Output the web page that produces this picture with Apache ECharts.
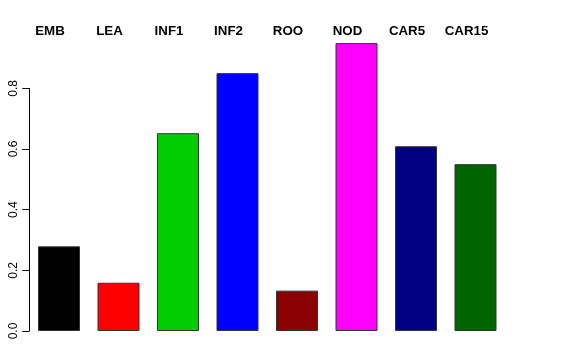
<!DOCTYPE html>
<html>
<head>
<meta charset="utf-8">
<script src="https://cdn.jsdelivr.net/npm/echarts@6/dist/echarts.min.js"></script>
<style>html,body{margin:0;padding:0;background:#fff}#c{width:576px;height:360px}</style>
</head>
<body>
<div id="c"></div>
<script>
const categories = ['EMB', 'LEA', 'INF1', 'INF2', 'ROO', 'NOD', 'CAR5', 'CAR15'];
const values = [0.279, 0.159, 0.652, 0.850, 0.133, 0.949, 0.609, 0.550];
const barColors = ['#000000', '#FF0000', '#00CD00', '#0000FF', '#8B0000', '#FF00FF', '#000080', '#006400'];
const yTicks = [0, 0.2, 0.4, 0.6, 0.8];

const chart = echarts.init(document.getElementById('c'), null, {renderer: 'canvas'});
chart.setOption({
  animation: false,
  backgroundColor: '#fff',
  grid: {left: 29.25, right: 70.75, top: 88.3, bottom: 29},
  xAxis: {
    type: 'category',
    data: categories,
    position: 'top',
    axisLine: {show: false},
    axisTick: {show: false},
    splitLine: {show: false},
    axisLabel: {
      interval: 0,
      margin: 57,
      verticalAlign: 'middle',
      padding: [0, 18, 0, 0],
      fontFamily: 'Liberation Sans, Arial, sans-serif',
      fontWeight: 'bold',
      fontSize: 13.3,
      color: '#000'
    }
  },
  yAxis: {
    type: 'value',
    min: yTicks[0],
    max: yTicks[yTicks.length - 1],
    interval: 0.2,
    axisLine: {show: true, lineStyle: {color: '#000', width: 1}},
    axisTick: {show: true, length: 7, lineStyle: {color: '#000'}},
    splitLine: {show: false},
    axisLabel: {
      rotate: 90,
      margin: 10,
      fontFamily: 'Liberation Sans, Arial, sans-serif',
      fontSize: 12,
      color: '#000',
      formatter: v => v.toFixed(1)
    }
  },
  series: [{
    type: 'bar',
    clip: false,
    barWidth: 42,
    data: values.map((v, i) => ({value: v, itemStyle: {color: barColors[i]}})),
    itemStyle: {borderColor: '#333', borderWidth: 1}
  }]
});
</script>
</body>
</html>
